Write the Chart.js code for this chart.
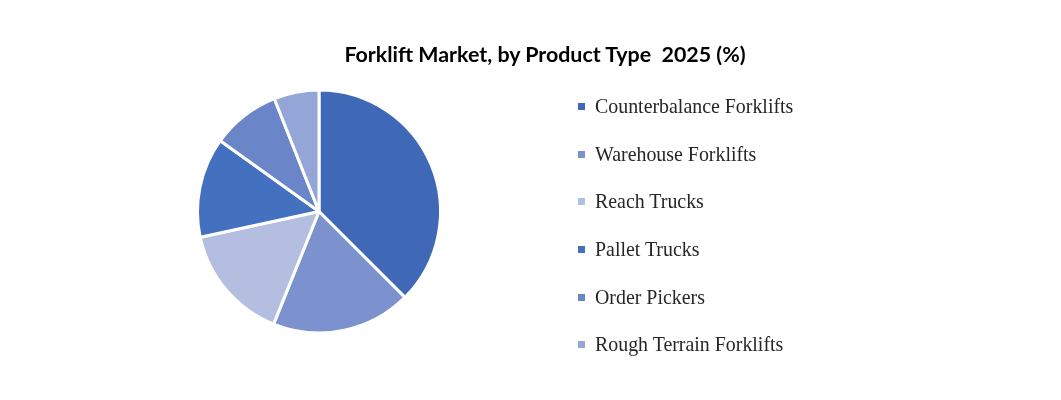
<!DOCTYPE html>
<html>
<head>
<meta charset="utf-8">
<script src="https://cdn.jsdelivr.net/npm/chart.js@4.4.0/dist/chart.umd.min.js"></script>
<style>
    html, body { margin: 0; padding: 0; background: #ffffff; }
    #wrap { position: relative; width: 1061px; height: 400px; overflow: hidden; }
    #pie { position: absolute; left: 0; top: 0; }
    #title {
        position: absolute; left: 245px; width: 600px; top: 41px;
        text-align: center; font-family: Lato, sans-serif; font-weight: 700;
        font-size: 21.4px; color: #000; white-space: pre;
    }
    #legend { position: absolute; left: 578px; top: 83px; margin: 0; padding: 0; list-style: none; }
    #legend li {
        height: 47.6px; display: flex; align-items: center;
        font-family: "Liberation Serif", serif; font-size: 19.9px; color: #262626;
    }
    #legend li span.box { width: 7px; height: 7px; margin-right: 10px; display: inline-block; }
</style>
</head>
<body>
<div id="wrap">
    <canvas id="pie" width="1061" height="400"></canvas>
    <div id="title">Forklift Market, by Product Type  2025 (%)</div>
    <ul id="legend"></ul>
</div>
<script>
// values (share of 2025 market, %)
const productTypes = [
    "Counterbalance Forklifts",
    "Warehouse Forklifts",
    "Reach Trucks",
    "Pallet Trucks",
    "Order Pickers",
    "Rough Terrain Forklifts"
];
const shares = [37.5, 18.6, 15.5, 13.3, 9.1, 6.0];
const sliceColors = ["#3F69B6", "#7B92CE", "#B3BEE0", "#4470C0", "#6A86C8", "#94A5D8"];

const chart = new Chart(document.getElementById("pie"), {
    type: "pie",
    data: {
        labels: productTypes,
        datasets: [{
            data: shares,
            backgroundColor: sliceColors,
            borderColor: "#ffffff",
            borderWidth: 3
        }]
    },
    options: {
        responsive: false,
        animation: false,
        layout: { padding: { left: 196, right: 619, top: 88, bottom: 65 } },
        plugins: {
            legend: { display: false },
            tooltip: { enabled: false }
        }
    }
});

// html legend built from the chart's own labels
const legendEl = document.getElementById("legend");
chart.options.plugins.legend.labels.generateLabels(chart).forEach(item => {
    const li = document.createElement("li");
    const box = document.createElement("span");
    box.className = "box";
    box.style.background = item.fillStyle;
    li.appendChild(box);
    li.appendChild(document.createTextNode(item.text));
    legendEl.appendChild(li);
});
</script>
</body>
</html>
